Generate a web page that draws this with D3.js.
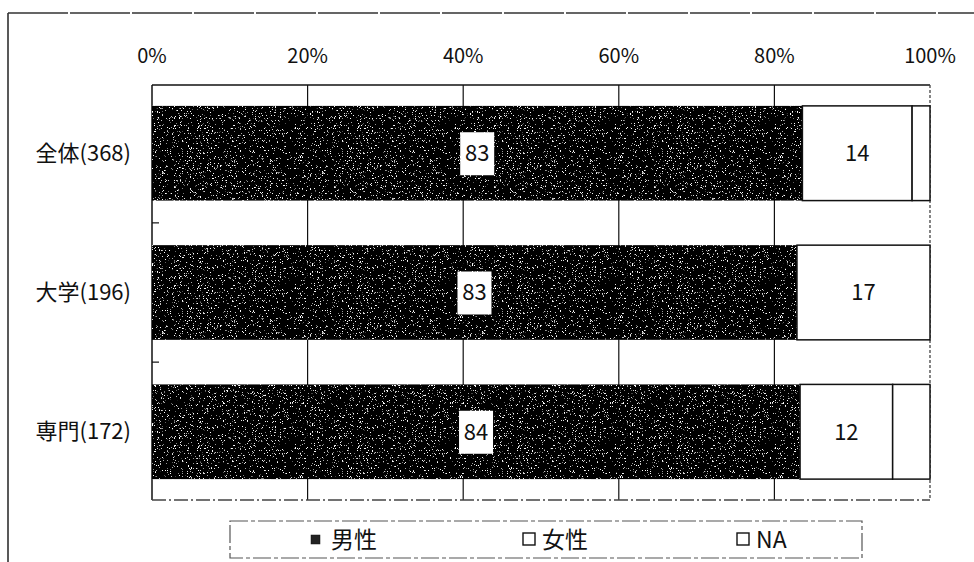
<!DOCTYPE html>
<html>
<head>
<meta charset="utf-8">
<script src="https://cdn.jsdelivr.net/npm/d3@7"></script>
<style>
  body { margin: 0; background: #fff; }
  text { font-family: "Noto Sans CJK JP", sans-serif; fill: #111; }
</style>
</head>
<body>
<div id="chart"></div>
<script>
var categories = ["全体(368)", "大学(196)", "専門(172)"];
var seriesNames = ["男性", "女性", "NA"];
var male = [83.6, 82.9, 83.3];
var female = [14.1, 17.1, 11.9];
var na = [2.3, 0, 4.8];
var maleLabels = ["83", "83", "84"];
var femaleLabels = ["14", "17", "12"];
var xTicks = [0, 20, 40, 60, 80, 100];

var margin = { top: 85, left: 152 },
    width = 778,
    height = 415;

var svg = d3.select("#chart")
    .append("svg")
    .attr("width", 974)
    .attr("height", 562);

// speckled black fill like the scanned original
var defs = svg.append("defs");
var f = defs.append("filter").attr("id", "speckle")
    .attr("x", 0).attr("y", 0).attr("width", "100%").attr("height", "100%");
f.append("feTurbulence").attr("type", "fractalNoise")
    .attr("baseFrequency", 1.6).attr("numOctaves", 2).attr("seed", 11).attr("result", "n");
f.append("feColorMatrix").attr("in", "n").attr("type", "matrix")
    .attr("values", "0 0 0 0 1  0 0 0 0 1  0 0 0 0 1  12 0 0 0 -7.9")
    .attr("result", "dots");
f.append("feComposite").attr("in", "dots").attr("in2", "SourceGraphic")
    .attr("operator", "in").attr("result", "clipped");
var m = f.append("feMerge");
m.append("feMergeNode").attr("in", "SourceGraphic");
m.append("feMergeNode").attr("in", "clipped");

// outer frame of the scanned figure
svg.append("line").attr("x1", 8).attr("x2", 8).attr("y1", 13).attr("y2", 562)
    .style("stroke", "#222").style("stroke-width", 1.5);
svg.append("line").attr("x1", 8).attr("x2", 974).attr("y1", 13).attr("y2", 13)
    .style("stroke", "#333").style("stroke-width", 1.5).style("stroke-dasharray", "60 2");

var g = svg.append("g")
    .attr("transform", "translate(" + margin.left + "," + margin.top + ")");

var x = d3.scaleLinear().domain([0, 100]).range([0, width]);
var y = d3.scaleBand().domain(categories).range([0, height])
    .paddingInner(0.32).paddingOuter(0.15);

// top percentage labels
g.selectAll(".xlab")
    .data(xTicks)
    .enter()
    .append("text")
    .attr("class", "xlab")
    .attr("x", function (d) { return x(d); })
    .attr("y", -22)
    .attr("text-anchor", "middle")
    .style("font-size", "20px")
    .text(function (d) { return d + "%"; });

// gridlines
g.selectAll(".grid")
    .data(xTicks.slice(1, -1))
    .enter()
    .append("line")
    .attr("class", "grid")
    .attr("x1", function (d) { return x(d); })
    .attr("x2", function (d) { return x(d); })
    .attr("y1", 0)
    .attr("y2", height)
    .style("stroke", "#111")
    .style("stroke-width", 1.2);

// plot frame
g.append("line").attr("x1", 0).attr("x2", width).attr("y1", 0).attr("y2", 0)
    .style("stroke", "#111").style("stroke-width", 1.5);
g.append("line").attr("x1", 0).attr("x2", 0).attr("y1", 0).attr("y2", height)
    .style("stroke", "#111").style("stroke-width", 1.5);
g.append("line").attr("x1", width).attr("x2", width).attr("y1", 0).attr("y2", height)
    .style("stroke", "#444").style("stroke-width", 1.3).style("stroke-dasharray", "3 2");
g.append("line").attr("x1", 0).attr("x2", width).attr("y1", height).attr("y2", height)
    .style("stroke", "#444").style("stroke-width", 1.3).style("stroke-dasharray", "14 3 2 3");

// small ticks at band boundaries
g.selectAll(".ytick")
    .data(categories.slice(1))
    .enter()
    .append("line")
    .attr("class", "ytick")
    .attr("x1", 0).attr("x2", 7)
    .attr("y1", function (d) { return y(d) - y.step() * y.paddingInner() / 2; })
    .attr("y2", function (d) { return y(d) - y.step() * y.paddingInner() / 2; })
    .style("stroke", "#111").style("stroke-width", 1.2);

// category labels
g.selectAll(".ylab")
    .data(categories)
    .enter()
    .append("text")
    .attr("class", "ylab")
    .attr("x", -21)
    .attr("y", function (d) { return y(d) + y.bandwidth() / 2; })
    .attr("dy", "0.35em")
    .attr("text-anchor", "end")
    .style("font-size", "22px")
    .text(function (d) { return d; });

// stacked bars
var rows = categories.map(function (c, i) {
    return { cat: c, male: male[i], female: female[i], na: na[i], ml: maleLabels[i], fl: femaleLabels[i] };
});

var bar = g.selectAll(".row")
    .data(rows)
    .enter()
    .append("g")
    .attr("class", "row");

bar.append("rect")
    .attr("x", x(0))
    .attr("y", function (d) { return y(d.cat); })
    .attr("width", function (d) { return x(d.male); })
    .attr("height", y.bandwidth())
    .style("fill", "#050505")
    .attr("filter", "url(#speckle)");

bar.append("rect")
    .attr("x", function (d) { return x(d.male); })
    .attr("y", function (d) { return y(d.cat); })
    .attr("width", function (d) { return x(d.female); })
    .attr("height", y.bandwidth())
    .style("fill", "#fff")
    .style("stroke", "#111")
    .style("stroke-width", 1.5);

bar.filter(function (d) { return d.na > 0; })
    .append("rect")
    .attr("x", function (d) { return x(d.male + d.female); })
    .attr("y", function (d) { return y(d.cat); })
    .attr("width", function (d) { return x(d.na); })
    .attr("height", y.bandwidth())
    .style("fill", "#fff")
    .style("stroke", "#111")
    .style("stroke-width", 1.5);

// male value in a white box
bar.append("rect")
    .attr("x", function (d) { return x(d.male / 2) - 17; })
    .attr("y", function (d) { return y(d.cat) + y.bandwidth() / 2 - 21; })
    .attr("width", 34)
    .attr("height", 43)
    .style("fill", "#fff");

bar.append("text")
    .attr("x", function (d) { return x(d.male / 2); })
    .attr("y", function (d) { return y(d.cat) + y.bandwidth() / 2; })
    .attr("dy", "0.36em")
    .attr("text-anchor", "middle")
    .style("font-size", "22px")
    .text(function (d) { return d.ml; });

bar.append("text")
    .attr("x", function (d) { return x(d.male + d.female / 2); })
    .attr("y", function (d) { return y(d.cat) + y.bandwidth() / 2; })
    .attr("dy", "0.36em")
    .attr("text-anchor", "middle")
    .style("font-size", "22px")
    .text(function (d) { return d.fl; });

// legend
var legend = svg.append("g").attr("transform", "translate(230,521)");
legend.append("rect")
    .attr("x", 0).attr("y", 0).attr("width", 632).attr("height", 37)
    .style("fill", "none")
    .style("stroke", "#555")
    .style("stroke-width", 1.2)
    .style("stroke-dasharray", "18 3 4 3");

var item = legend.selectAll(".item")
    .data(seriesNames)
    .enter()
    .append("g")
    .attr("class", "item")
    .attr("transform", function (d, i) { return "translate(" + (84 + i * 214) + ",18)"; });

item.append("rect")
    .attr("x", function (d, i) { return i === 0 ? -3 : -5; })
    .attr("y", function (d, i) { return i === 0 ? -4 : -6; })
    .attr("width", function (d, i) { return i === 0 ? 9 : 12; })
    .attr("height", function (d, i) { return i === 0 ? 9 : 12; })
    .style("fill", function (d, i) { return i === 0 ? "#222" : "#fff"; })
    .style("stroke", "#111")
    .style("stroke-width", function (d, i) { return i === 0 ? 0.5 : 1.4; });

item.append("text")
    .attr("x", function (d, i) { return i === 0 ? 17 : 14; })
    .attr("y", 1)
    .attr("dy", "0.36em")
    .style("font-size", "23px")
    .text(function (d) { return d; });
</script>
</body>
</html>
